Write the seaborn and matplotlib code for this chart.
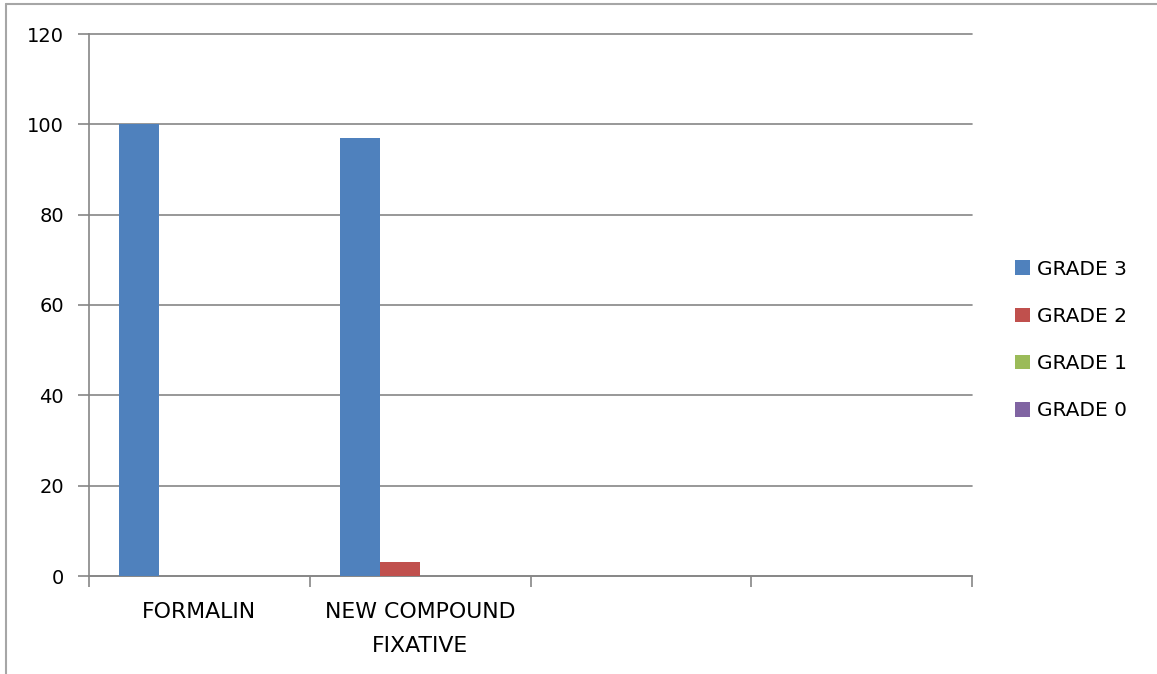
import matplotlib
matplotlib.use("Agg")
import matplotlib.pyplot as plt
from matplotlib.lines import Line2D
import seaborn as sns
import pandas as pd

categories = ["FORMALIN", "NEW COMPOUND\nFIXATIVE", "cat3", "cat4"]
tick_labels = ["FORMALIN", "NEW COMPOUND\nFIXATIVE", "", ""]
series = ["GRADE 3", "GRADE 2", "GRADE 1", "GRADE 0"]
grade3 = [100, 97, 0, 0]
grade2 = [0, 3, 0, 0]
grade1 = [0, 0, 0, 0]
grade0 = [0, 0, 0, 0]
colors = ["#4F81BD", "#C0504D", "#9BBB59", "#8064A2"]
yticks = [0, 20, 40, 60, 80, 100, 120]

rows = []
for s, vals in zip(series, [grade3, grade2, grade1, grade0]):
    for c, v in zip(categories, vals):
        rows.append({"category": c, "series": s, "value": v})
df = pd.DataFrame(rows)

sns.set_style("white")
plt.rcParams["font.family"] = ["DejaVu Sans"]
FS_X = 15.8
FS_Y = 14
FS_L = 14.5
GRAY = "#868686"

fig = plt.figure(figsize=(11.57, 6.74), dpi=100)
ax = fig.add_axes([89/1157, 1-576/674, (972-89)/1157, (576-34)/674])

sns.barplot(data=df, x="category", y="value", hue="series", order=categories,
            hue_order=series, palette=colors, saturation=1, width=0.7256,
            edgecolor="none", linewidth=0, errorbar=None, ax=ax, zorder=3)

ax.set_xlim(-0.5, 3.5)
ax.set_ylim(0, 120)
ax.set_yticks(yticks)
ax.set_yticklabels([str(t) for t in yticks], fontsize=FS_Y, color="black")
ax.set_xticks(range(len(categories)))
ax.set_xticklabels(tick_labels, fontsize=FS_X, color="black", linespacing=1.83)
ax.set_xticks([-0.5, 0.5, 1.5, 2.5, 3.5], minor=True)
ax.tick_params(axis="x", which="major", length=0, pad=19, bottom=True)
ax.tick_params(axis="x", which="minor", length=8, width=1.2, color=GRAY,
               direction="out", bottom=True)
ax.tick_params(axis="y", length=8, width=1.2, color=GRAY, direction="out", pad=10, left=True)
ax.set_xlabel("")
ax.set_ylabel("")
ax.yaxis.grid(True, color=GRAY, linewidth=1.2, zorder=0)
for gl in ax.get_ygridlines():
    gl.set_clip_on(False)
ax.set_axisbelow(True)
for side in ["top", "right"]:
    ax.spines[side].set_visible(False)
for side in ["left", "bottom"]:
    ax.spines[side].set_color(GRAY)
    ax.spines[side].set_linewidth(1.2)

handles, labels = ax.get_legend_handles_labels()
ax.get_legend().remove()
leg = fig.legend(handles, labels, loc="center left", bbox_to_anchor=(1015/1157, 1-340/674),
                 frameon=False, fontsize=FS_L, handlelength=0.75, handleheight=0.75,
                 handletextpad=0.35, labelspacing=1.4, borderpad=0, borderaxespad=0)
for t in leg.get_texts():
    t.set_color("black")

fig.add_artist(Line2D([6/1157, 1.0], [1-4/674, 1-4/674], transform=fig.transFigure,
                      color="#A6A6A6", linewidth=1.5))
fig.add_artist(Line2D([6/1157, 6/1157], [0, 1-4/674], transform=fig.transFigure,
                      color="#A6A6A6", linewidth=1.5))

fig.savefig("out.png", dpi=100)
